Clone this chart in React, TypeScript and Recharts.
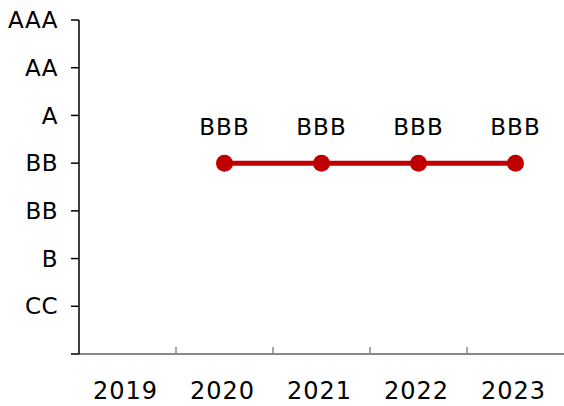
import { LineChart, Line, XAxis, YAxis, LabelList } from 'recharts';

const years = ['2019', '2020', '2021', '2022', '2023'];
const ratingScore = [null, 4, 4, 4, 4];
const ratingText = [null, 'BBB', 'BBB', 'BBB', 'BBB'];
const yTickLabels = ['', 'CC', 'B', 'BB', 'BB', 'A', 'AA', 'AAA'];

const W = 564;
const H = 406;
const Y_AXIS_W = 79;
const BAND = (W - Y_AXIS_W) / years.length;
const FONT = 'DejaVu Sans';

const data = years.map((year, i) => ({
  pos: i + 0.5,
  year,
  score: ratingScore[i],
  rating: ratingText[i],
}));

const XTick = (props: any) => {
  const { x, y, payload } = props;
  const i = payload.value;
  return (
    <g>
      {i > 0 && <line x1={x} x2={x} y1={y} y2={y - 7} stroke="#898989" strokeWidth={1.5} />}
      <text x={x + BAND / 2 - 2} y={y + 45} textAnchor="middle" fontSize={24} letterSpacing={1}
        fontFamily={FONT} fill="#000">{years[i]}</text>
    </g>
  );
};

export default function App() {
  return (
    <div style={{ position: 'absolute', left: 0, top: 0, width: W, height: H, background: '#fff' }}>
      <LineChart width={W} height={H} data={data} margin={{ top: 20, right: 0, bottom: 0, left: 0 }}>
        <XAxis dataKey="pos" type="number" domain={[0, years.length]} ticks={[0, 1, 2, 3, 4]}
          height={52} tickSize={0} tickMargin={0} tickLine={false} tick={<XTick />}
          axisLine={{ stroke: '#898989', strokeWidth: 2 }} />
        <YAxis type="number" domain={[0, 7]} ticks={[0, 1, 2, 3, 4, 5, 6, 7]} width={Y_AXIS_W}
          tickFormatter={(v: number) => yTickLabels[v]} tickSize={8} tickMargin={13}
          axisLine={{ stroke: '#000', strokeWidth: 1.5 }} tickLine={{ stroke: '#000', strokeWidth: 1.5 }}
          tick={{ fill: '#000', fontSize: 23, fontFamily: FONT, letterSpacing: 0.5 }} />
        <Line dataKey="score" stroke="#c00000" strokeWidth={5} isAnimationActive={false}
          dot={{ r: 8.5, fill: '#c00000', stroke: '#c00000', strokeWidth: 0 }} activeDot={false}>
          <LabelList dataKey="rating" position="top" offset={28} fill="#000" fontSize={23}
            fontFamily={FONT} letterSpacing={1} />
        </Line>
      </LineChart>
    </div>
  );
}
